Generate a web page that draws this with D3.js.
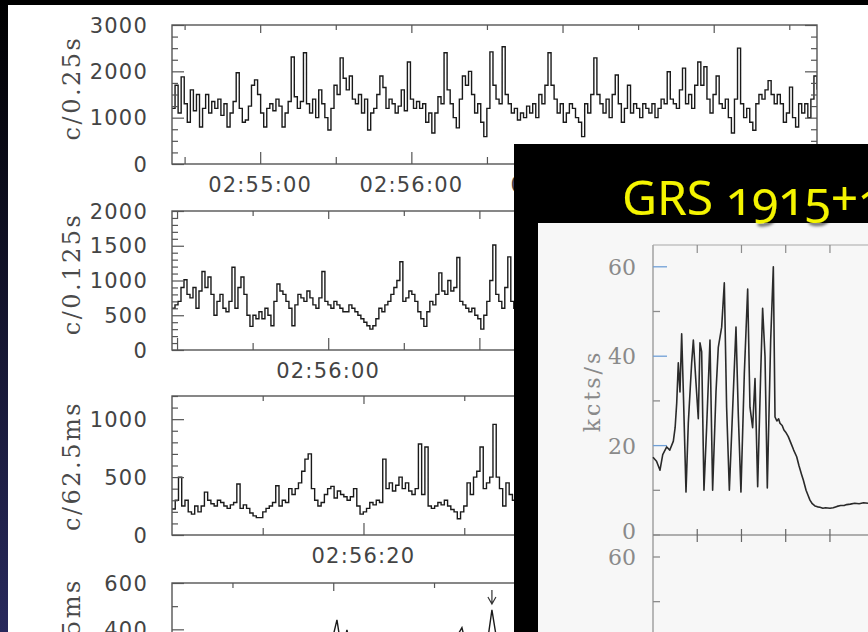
<!DOCTYPE html>
<html>
<head>
<meta charset="utf-8">
<script src="https://cdn.jsdelivr.net/npm/d3@7"></script>
<style>
  html, body { margin: 0; padding: 0; background: #000; }
  svg { display: block; }
</style>
</head>
<body>
<svg id="chart" width="868" height="632"></svg>
<script>
// counts per bin (left to right)
const p1Values = [
  1200,1700,1100,1880,1300,900,1600,1150,1500,800,
  1200,1500,1100,1350,1200,1400,1050,1300,800,1100,
  1350,1970,1200,900,950,1250,1700,1815,1500,1100,
  800,1200,1300,1150,1400,1250,800,1100,1350,2310,
  1450,1200,1350,2400,1300,1100,1400,1000,1600,1300,
  1000,735,1200,1700,1500,2290,1850,1600,1900,1400,
  1300,1500,1100,1400,735,1100,1200,1500,1900,1650,
  1200,1400,1300,1100,1250,1600,1150,2200,1400,1200,
  1350,1200,1300,900,1100,670,1100,1450,1300,2400,
  1600,1300,1000,780,1400,1900,1700,2000,1500,1100,
  1300,900,590,1200,2420,1700,1400,1300,2530,1500,
  1300,1100,1200,950,1100,1000,1250,1100,1300,1000,
  1500,1300,1700,2400,1700,1400,1100,1300,900,1100,
  1300,1200,1000,900,590,1300,1100,1500,2290,1500,
  1300,1100,1400,1000,1500,1920,1300,900,1200,1700,
  1100,1300,1200,1000,1300,1200,1100,1300,1000,1200,
  1400,1300,1990,1400,1300,1200,1600,2070,1300,1500,
  1200,1700,2200,1700,2100,1400,1100,1500,1900,1300,
  1200,1400,1000,670,1400,2500,1300,1000,1200,900,
  730,1300,1500,1400,1600,1800,1500,1300,1500,1300,
  900,1100,1660,1000,800,1300,1100,1300,1000,1400,
  1900,1600
];
const p2Values = [
  600,650,700,900,1010,800,750,900,600,850,
  1130,900,1050,800,500,700,800,600,550,700,
  1190,600,900,1050,800,500,340,500,450,550,
  450,600,500,350,700,950,850,800,700,600,
  350,650,800,750,700,850,750,650,600,750,
  1130,700,650,600,700,650,600,550,550,650,
  600,550,500,450,400,350,300,350,450,600,
  550,650,700,800,900,1000,1270,700,750,850,
  800,700,550,450,340,550,700,650,800,1110,
  850,800,1000,850,900,1330,700,650,600,550,
  600,500,450,300,500,700,1000,1510,800,700,
  600,900,1340,700,600,650,800,700,600
];
const p3Values = [
  224,300,500,250,300,200,180,250,200,250,
  370,300,270,250,300,280,250,230,260,280,
  440,230,260,230,190,165,150,150,200,230,
  250,280,425,250,300,280,400,350,400,450,
  550,655,700,400,300,250,280,350,400,420,
  320,380,350,330,300,330,400,250,180,200,
  230,280,260,300,280,655,400,450,380,430,
  500,400,450,380,350,400,785,350,760,250,
  230,250,280,260,300,250,220,200,140,200,
  250,450,350,500,550,760,400,450,500,955,
  500,400,250,450,350,300,350,300
];
const p4Values = [
  250,280,230,300,260,220,270,310,240,260,
  290,230,250,300,270,240,260,320,280,250,
  230,270,300,260,240,280,330,290,260,300,
  270,310,350,441,300,398,280,260,300,330,
  290,270,250,300,320,280,260,300,340,310,
  290,330,360,300,280,320,350,370,407,320,
  300,340,360,330,484,350,300,320,340,310
];
const arrowIndex = 64;   // flare marked with the arrow in the last panel

const p1YLabels = [0, 1000, 2000, 3000];
const p2YLabels = [0, 500, 1000, 1500, 2000];
const p3YLabels = [0, 500, 1000];
const p4YLabels = [400, 600];

// inset: GRS 1915+105 light curve (arbitrary seconds, kcts/s)
const insetTime = [0,40,79,110,155,190,230,250,268,286,305,324,343,373,399,437,456,486,512,531,
  550,576,606,644,674,712,738,776,806,832,863,908,938,964,994,1032,1070,1096,1126,1153,
  1183,1217,1239,1266,1292,1330,1360,1379,1400,1420,1435,1460,1480,1500,1529,1560,1590,1624,1650,1680,
  1699,1730,1750,1774,1800,1830,1860,1887,1920,1950,2000,2037,2080,2120,2160,2189,2230,2280,2330,2380,2430];
const insetKcts = [17.4,16.5,14.5,18,19.7,19,21,24,29.5,38.5,32,45,32,9.6,25,38.5,43.6,34,26,43,
  41,10,24,43.6,10,32,42,46.5,56.4,28.6,10,32,46.5,27,9.6,36,55,28.6,24,35,
  10.8,36,50.7,40,10.5,43.6,60,26.4,25.5,26,25,24.5,23.5,23,22,20.5,19,17.5,15.5,13.5,
  12.3,10,9,7.8,7,6.5,6.3,6.2,6,6.1,6,6.1,6.4,6.6,6.6,6.8,6.9,7.1,7.0,7.2,7.1];
const insetYLabels = [0, 20, 40, 60];
const insetXTicks = [500, 1000, 1500, 2000];

const W = 868, H = 632;
const boxLeft = 514;
const svg = d3.select('#chart');
const defs = svg.append('defs');

// slide background
const edge = defs.append('linearGradient').attr('id', 'edge')
  .attr('x1', 0).attr('y1', 0).attr('x2', 0).attr('y2', 1);
edge.append('stop').attr('offset', '0%').attr('stop-color', '#000');
edge.append('stop').attr('offset', '100%').attr('stop-color', '#28295c');
svg.append('rect').attr('width', W).attr('height', H).attr('fill', '#000');
svg.append('rect').attr('width', 8).attr('height', H).attr('fill', 'url(#edge)');
svg.append('rect').attr('x', 8).attr('y', 5).attr('width', W - 8).attr('height', H - 5).attr('fill', '#fff');

function hms(s) {
  const h = Math.floor(s / 3600), m = Math.floor(s % 3600 / 60), sec = Math.round(s % 60);
  return [h, m, sec].map(d => String(d).padStart(2, '0')).join(':');
}

const plotLeft = 172, plotRight = 817, plotH = 139;
const frameColor = '#555';

const panels = [
  {values: p1Values, t0: 10465, span: 256, bin: 256 / 211, yMax: 3000, top: 25,
   minorY: 250, majorY: 1000, yLabels: p1YLabels, minorX: 30, majorX: 60, labelX: 60,
   title: 'c/0.25s', titleY: 88, curve: d3.curveStepAfter},
  {values: p2Values, t0: 10529, span: 128, bin: 0.595, yMax: 2000, top: 211,
   minorY: 100, majorY: 500, yLabels: p2YLabels, minorX: 15, majorX: 30, labelX: 60,
   title: 'c/0.125s', titleY: 274, curve: d3.curveStepAfter},
  {values: p3Values, t0: 10561, span: 64, bin: 0.3217, yMax: 1200, top: 396,
   minorY: 100, majorY: 500, yLabels: p3YLabels, minorX: 10, majorX: 20, labelX: 20,
   title: 'c/62.5ms', titleY: 466, curve: d3.curveStepAfter},
  {values: p4Values, t0: 10582, span: 32, bin: 0.248, yMax: 600, top: 583,
   minorY: 100, majorY: 200, yLabels: p4YLabels, minorX: 5, majorX: 10, labelX: 10,
   title: 'c/31.25ms', titleY: 652, curve: d3.curveLinear}
];

function styleTicks(sel) {
  sel.select('.domain').remove();
  sel.selectAll('line').attr('stroke', frameColor).attr('stroke-width', 1.2);
}

panels.forEach((p, k) => {
  const bottom = p.top + plotH;
  const x = d3.scaleLinear().domain([p.t0, p.t0 + p.span]).range([plotLeft, plotRight]);
  const y = d3.scaleLinear().domain([0, p.yMax]).range([bottom, p.top]);
  const g = svg.append('g');

  const steps = (a, b, s) => d3.range(Math.ceil(a / s) * s, b + 1e-6, s);
  const xAll = steps(p.t0, p.t0 + p.span, p.minorX);
  const xMajor = xAll.filter(t => t % p.majorX === 0);
  const xMinor = xAll.filter(t => t % p.majorX !== 0);
  // labels fully under the overlaid box (or below the window) are not drawn
  const xLabels = bottom + 28 < H ? xAll.filter(t => t % p.labelX === 0 && x(t) - 50 < boxLeft) : [];
  const yAll = d3.range(0, p.yMax + 1, p.minorY);
  const yMajor = yAll.filter(v => v % p.majorY === 0);
  const yMinor = yAll.filter(v => v % p.majorY !== 0);

  // data
  defs.append('clipPath').attr('id', 'clip' + k)
    .append('rect').attr('x', plotLeft).attr('y', p.top).attr('width', plotRight - plotLeft).attr('height', plotH);
  const line = d3.line()
    .x((d, i) => x(p.t0 + i * p.bin))
    .y(d => y(d))
    .curve(p.curve);
  g.append('path')
    .datum(p.values)
    .attr('clip-path', `url(#clip${k})`)
    .attr('fill', 'none')
    .attr('stroke', '#1a1a1a')
    .attr('stroke-width', 1.4)
    .attr('d', line);

  // frame
  g.append('rect')
    .attr('x', plotLeft).attr('y', p.top)
    .attr('width', plotRight - plotLeft).attr('height', plotH)
    .attr('fill', 'none').attr('stroke', frameColor).attr('stroke-width', 1.4);

  // inward ticks on all four sides
  g.append('g').attr('transform', `translate(0,${bottom})`)
    .call(d3.axisTop(x).tickValues(xMinor).tickSize(7).tickFormat('')).call(styleTicks);
  g.append('g').attr('transform', `translate(0,${bottom})`)
    .call(d3.axisTop(x).tickValues(xMajor).tickSize(12).tickFormat('')).call(styleTicks);
  g.append('g').attr('transform', `translate(0,${p.top})`)
    .call(d3.axisBottom(x).tickValues(xMinor).tickSize(5).tickFormat('')).call(styleTicks);
  g.append('g').attr('transform', `translate(0,${p.top})`)
    .call(d3.axisBottom(x).tickValues(xMajor).tickSize(8).tickFormat('')).call(styleTicks);
  g.append('g').attr('transform', `translate(${plotLeft},0)`)
    .call(d3.axisRight(y).tickValues(yMinor).tickSize(6).tickFormat('')).call(styleTicks);
  g.append('g').attr('transform', `translate(${plotLeft},0)`)
    .call(d3.axisRight(y).tickValues(yMajor).tickSize(12).tickFormat('')).call(styleTicks);
  g.append('g').attr('transform', `translate(${plotRight},0)`)
    .call(d3.axisLeft(y).tickValues(yMinor).tickSize(6).tickFormat('')).call(styleTicks);
  g.append('g').attr('transform', `translate(${plotRight},0)`)
    .call(d3.axisLeft(y).tickValues(yMajor).tickSize(12).tickFormat('')).call(styleTicks);

  // tick labels
  g.selectAll('.xlab').data(xLabels).enter().append('text')
    .attr('x', d => x(d)).attr('y', bottom + 28)
    .attr('text-anchor', 'middle')
    .attr('font-family', 'DejaVu Sans').attr('font-size', 21)
    .attr('letter-spacing', 1.2).attr('fill', '#444')
    .text(hms);
  g.selectAll('.ylab').data(p.yLabels).enter().append('text')
    .attr('x', 148).attr('y', d => y(d)).attr('dy', '0.36em')
    .attr('text-anchor', 'end')
    .attr('font-family', 'DejaVu Sans').attr('font-size', 21)
    .attr('letter-spacing', 1.2).attr('fill', '#444')
    .text(d => d);

  g.append('text')
    .attr('transform', `translate(80,${p.titleY}) rotate(-90)`)
    .attr('text-anchor', 'middle')
    .attr('font-family', 'DejaVu Serif').attr('font-size', 24)
    .attr('letter-spacing', 2.5).attr('fill', '#4a4a4a')
    .text(p.title);

  if (k === 3) {
    const ax = x(p.t0 + arrowIndex * p.bin);
    g.append('path')
      .attr('d', `M${ax},590 L${ax},604 M${ax - 4},597 L${ax},604 L${ax + 4},597`)
      .attr('fill', 'none').attr('stroke', '#333').attr('stroke-width', 1.2);
  }
});

// ---- overlaid slide box with the GRS 1915+105 light curve ----
svg.append('rect').attr('x', boxLeft).attr('y', 144).attr('width', W - boxLeft).attr('height', H - 144).attr('fill', '#000');
svg.append('rect').attr('x', 538).attr('y', 223).attr('width', W - 538).attr('height', H - 223).attr('fill', '#f7f7f7');

const shadow = defs.append('filter').attr('id', 'shadow').attr('x', '-10%').attr('y', '-10%').attr('width', '130%').attr('height', '140%');
shadow.append('feDropShadow').attr('dx', 2).attr('dy', 3).attr('stdDeviation', 1.5).attr('flood-color', '#000').attr('flood-opacity', 0.6);
svg.append('text')
  .attr('x', 622).attr('y', 215)
  .attr('font-family', 'Noto Sans').attr('font-size', 48)
  .attr('fill', '#f4f400')
  .attr('filter', 'url(#shadow)')
  .style('font-variant-numeric', 'oldstyle-nums')
  .text('GRS 1915+105');

const ix = d3.scaleLinear().domain([0, 2430]).range([653, 868]);
const iy = d3.scaleLinear().domain([0, 60]).range([535, 266.8]);
const iy2 = d3.scaleLinear().domain([0, 60]).range([825, 557]);
const inset = svg.append('g');
const axisGray = '#8c8c8c';

inset.append('line').attr('x1', 653).attr('x2', 653).attr('y1', 245).attr('y2', H)
  .attr('stroke', axisGray).attr('stroke-width', 1.2);
inset.append('line').attr('x1', 653).attr('x2', W).attr('y1', 245).attr('y2', 245)
  .attr('stroke', '#a8a8a8').attr('stroke-width', 1.2);
inset.append('line').attr('x1', 653).attr('x2', W).attr('y1', iy(0)).attr('y2', iy(0))
  .attr('stroke', '#666').attr('stroke-width', 1.2);

// y ticks: every 10 kcts/s, labelled ones tinted blue
const insetYTicks = d3.range(0, 61, 10);
inset.selectAll('.ytick').data(insetYTicks).enter().append('line')
  .attr('x1', 653).attr('x2', d => d % 20 === 0 && d > 0 ? 667 : 660)
  .attr('y1', d => iy(d)).attr('y2', d => iy(d))
  .attr('stroke', d => d % 20 === 0 && d > 0 ? '#6f9fd6' : axisGray).attr('stroke-width', 1.3);
inset.selectAll('.ytick2').data([50, 60]).enter().append('line')
  .attr('x1', 653).attr('x2', 660)
  .attr('y1', d => iy2(d)).attr('y2', d => iy2(d))
  .attr('stroke', axisGray).attr('stroke-width', 1.3);

inset.selectAll('.xtick').data(insetXTicks).enter().append('line')
  .attr('x1', d => ix(d)).attr('x2', d => ix(d)).attr('y1', 245).attr('y2', 253)
  .attr('stroke', axisGray).attr('stroke-width', 1.2);
inset.selectAll('.xtick2').data(insetXTicks).enter().append('line')
  .attr('x1', d => ix(d)).attr('x2', d => ix(d)).attr('y1', iy(0) - 6).attr('y2', iy(0) + 7)
  .attr('stroke', '#666').attr('stroke-width', 1.2);

inset.selectAll('.ylab').data(insetYLabels).enter().append('text')
  .attr('x', 636).attr('y', d => iy(d)).attr('dy', d => d === 0 ? '0.2em' : '0.36em')
  .attr('text-anchor', 'end')
  .attr('font-family', 'DejaVu Serif').attr('font-size', 22).attr('fill', '#8a8a8a')
  .text(d => d);
inset.append('text')
  .attr('x', 636).attr('y', iy2(60)).attr('dy', '0.36em')
  .attr('text-anchor', 'end')
  .attr('font-family', 'DejaVu Serif').attr('font-size', 22).attr('fill', '#8a8a8a')
  .text(60);
inset.append('text')
  .attr('transform', 'translate(600,391) rotate(-90)')
  .attr('text-anchor', 'middle')
  .attr('font-family', 'DejaVu Serif').attr('font-size', 22)
  .attr('letter-spacing', 3).attr('fill', '#8a8a8a')
  .text('kcts/s');

inset.append('path')
  .datum(insetTime.map((t, i) => [t, insetKcts[i]]))
  .attr('fill', 'none')
  .attr('stroke', '#2a2a2a')
  .attr('stroke-width', 1.6)
  .attr('stroke-linejoin', 'round')
  .attr('d', d3.line().x(d => ix(d[0])).y(d => iy(d[1])));
</script>
</body>
</html>
